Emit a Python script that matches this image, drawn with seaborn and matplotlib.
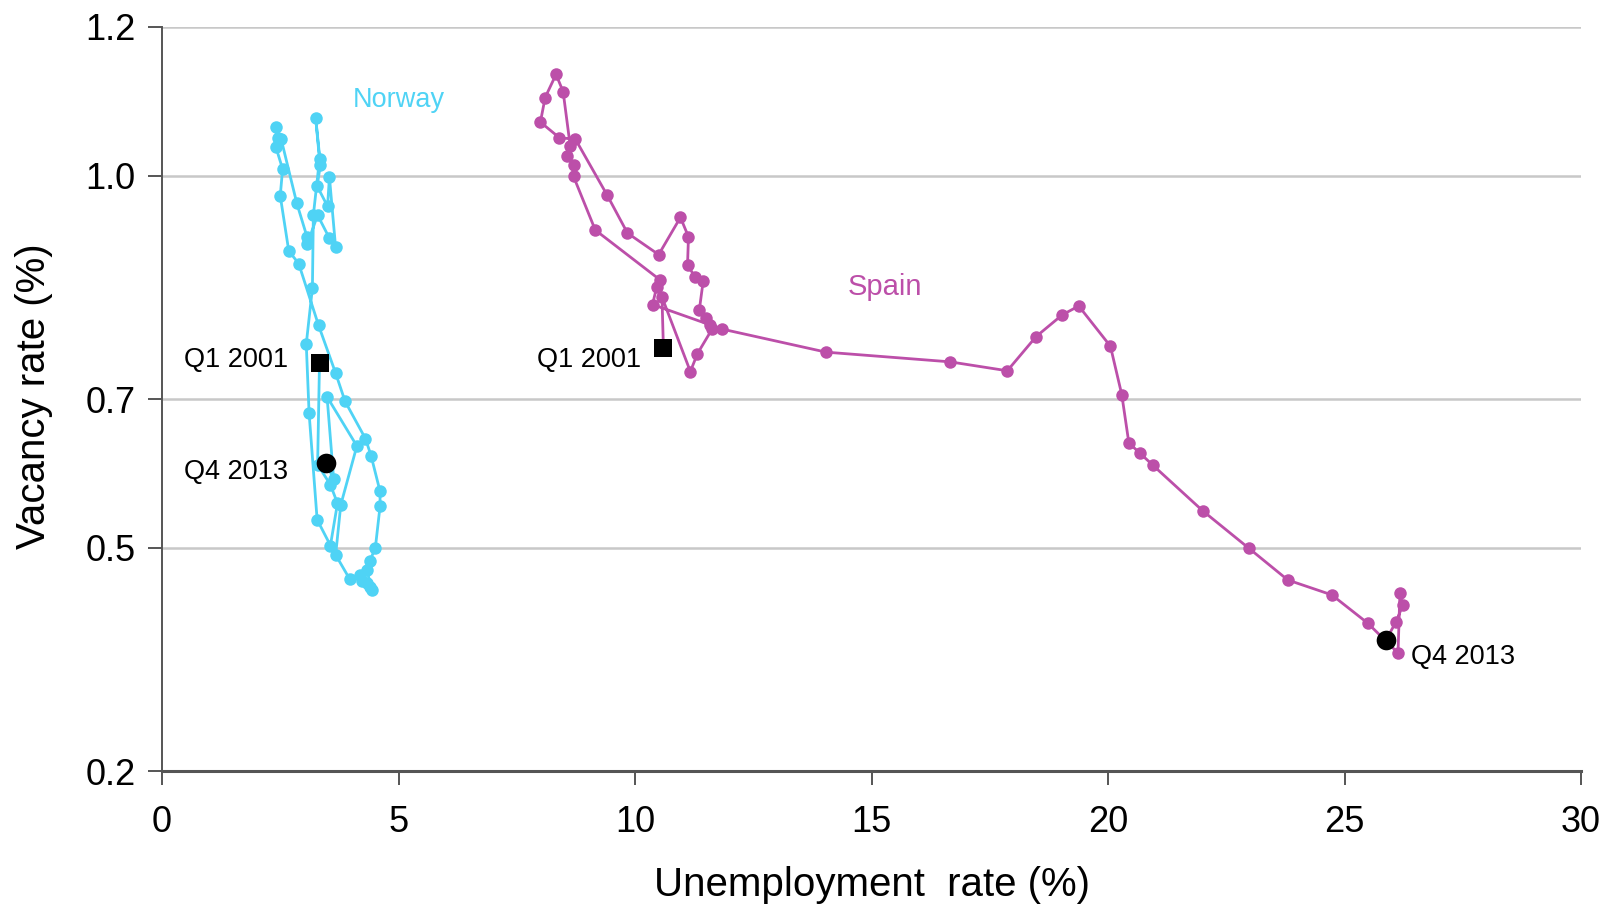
import matplotlib
matplotlib.use("Agg")
import matplotlib.pyplot as plt
import seaborn as sns
import pandas as pd

# Quarterly Beveridge-curve paths, Q1 2001 .. Q4 2013
norway_unemp = [3.33, 3.29, 3.56, 3.71, 3.56, 3.97, 4.19, 4.23, 4.33, 4.40, 4.44, 4.33,
                4.39, 4.51, 4.61, 4.61, 4.42, 4.30, 3.87, 3.67, 3.31, 2.89, 2.68, 2.50,
                2.55, 2.41, 2.42, 2.45, 2.52, 2.85, 3.07, 3.07, 3.29, 3.54, 3.67, 3.54,
                3.50, 3.28, 3.35, 3.25, 3.33, 3.20, 3.18, 3.05, 3.11, 3.28, 3.67, 3.78,
                4.12, 3.49, 3.63, 3.47]
norway_vac = [0.749, 0.612, 0.585, 0.560, 0.503, 0.458, 0.464, 0.456, 0.453, 0.448, 0.443, 0.471,
              0.482, 0.500, 0.556, 0.576, 0.624, 0.647, 0.697, 0.735, 0.799, 0.882, 0.899, 0.973,
              1.009, 1.038, 1.065, 1.051, 1.049, 0.963, 0.917, 0.908, 0.947, 0.916, 0.904, 0.998,
              0.959, 0.986, 1.015, 1.077, 1.022, 0.947, 0.849, 0.774, 0.681, 0.538, 0.490, 0.558,
              0.637, 0.703, 0.592, 0.614]

spain_unemp = [10.60, 10.57, 11.17, 11.32, 11.63, 11.59, 11.50, 11.36, 11.44, 11.27, 11.11, 11.13,
               10.96, 10.50, 9.84, 9.41, 8.74, 8.40, 8.00, 8.10, 8.33, 8.48, 8.63, 8.56,
               8.70, 8.70, 9.16, 10.53, 10.46, 10.37, 11.84, 14.04, 16.66, 17.87, 18.48, 19.03,
               19.38, 20.05, 20.29, 20.44, 20.68, 20.95, 22.00, 22.97, 23.80, 24.73, 25.49, 26.13,
               26.17, 26.23, 26.09, 25.88]
spain_vac = [0.769, 0.837, 0.737, 0.761, 0.794, 0.800, 0.809, 0.820, 0.858, 0.864, 0.880, 0.918,
             0.944, 0.894, 0.923, 0.974, 1.049, 1.051, 1.072, 1.105, 1.136, 1.113, 1.040, 1.026,
             1.015, 0.999, 0.927, 0.860, 0.851, 0.827, 0.794, 0.763, 0.750, 0.738, 0.784, 0.813,
             0.825, 0.771, 0.706, 0.641, 0.627, 0.611, 0.550, 0.500, 0.457, 0.437, 0.399, 0.359,
             0.439, 0.423, 0.401, 0.377]

x_ticks = [0, 5, 10, 15, 20, 25, 30]
y_ticks = [0.2, 0.5, 0.7, 1.0, 1.2]
y_tick_labels = ["0.2", "0.5", "0.7", "1.0", "1.2"]

NORWAY_C = "#4FD3F5"
SPAIN_C = "#BC4FA9"

sns.set_theme(style="white")
plt.rcParams["font.family"] = ["Liberation Sans", "DejaVu Sans"]

fig = plt.figure(figsize=(16.15, 9.08), dpi=100)
ax = fig.add_axes([0.1003, 0.1505, 0.8787, 0.8200])

for xs, ys, col in [(norway_unemp, norway_vac, NORWAY_C), (spain_unemp, spain_vac, SPAIN_C)]:
    df = pd.DataFrame({"u": xs, "v": ys})
    sns.lineplot(data=df, x="u", y="v", sort=False, estimator=None, errorbar=None,
                 color=col, lw=2.0, marker="o", markersize=9, markeredgewidth=0,
                 ax=ax, zorder=3)

# start (Q1 2001) and end (Q4 2013) of each path
starts = pd.DataFrame({"u": [norway_unemp[0], spain_unemp[0]], "v": [norway_vac[0], spain_vac[0]]})
ends = pd.DataFrame({"u": [norway_unemp[-1], spain_unemp[-1]], "v": [norway_vac[-1], spain_vac[-1]]})
sns.scatterplot(data=starts, x="u", y="v", marker="s", s=160, color="black", linewidth=0, ax=ax, zorder=5)
sns.scatterplot(data=ends, x="u", y="v", marker="o", s=200, color="black", linewidth=0, ax=ax, zorder=5)

ax.set_xlim(0, 30)
ax.set_ylim(0.2, 1.2)
ax.set_xticks(x_ticks)
ax.set_xticklabels([str(t) for t in x_ticks])
ax.set_yticks(y_ticks)
ax.set_yticklabels(y_tick_labels)

ax.grid(axis="y", color="#C8C8C8", lw=1.8)
ax.grid(axis="x", visible=False)
ax.set_axisbelow(True)
for s in ["top", "right"]:
    ax.spines[s].set_visible(False)
ax.spines["left"].set_color("#555555")
ax.spines["left"].set_linewidth(1.4)
ax.spines["bottom"].set_color("#555555")
ax.spines["bottom"].set_linewidth(2.2)
ax.spines["bottom"].set_zorder(2)

ax.tick_params(axis="y", length=10, width=1.4, color="#555555", pad=9, labelsize=26, labelcolor="black", left=True)
ax.tick_params(axis="x", length=10, width=1.4, color="#555555", pad=14, labelsize=26, labelcolor="black", bottom=True)

ax.set_xlabel("Unemployment  rate (%)", fontsize=29, color="black")
ax.set_ylabel("Vacancy rate (%)", fontsize=29, color="black")
ax.xaxis.set_label_coords(0.5, -0.127)
ax.yaxis.set_label_coords(-0.077, 0.504)

ax.text(4.03, 1.102, "Norway", color=NORWAY_C, fontsize=19.5, va="center", ha="left")
ax.text(14.5, 0.851, "Spain", color=SPAIN_C, fontsize=21, va="center", ha="left")
ax.text(0.46, 0.752, "Q1 2001", fontsize=19.5, va="center", ha="left", color="black")
ax.text(0.46, 0.6025, "Q4 2013", fontsize=19.5, va="center", ha="left", color="black")
ax.text(7.93, 0.752, "Q1 2001", fontsize=19.5, va="center", ha="left", color="black")
ax.text(26.41, 0.353, "Q4 2013", fontsize=19.5, va="center", ha="left", color="black")

fig.savefig("out.png", dpi=100)
